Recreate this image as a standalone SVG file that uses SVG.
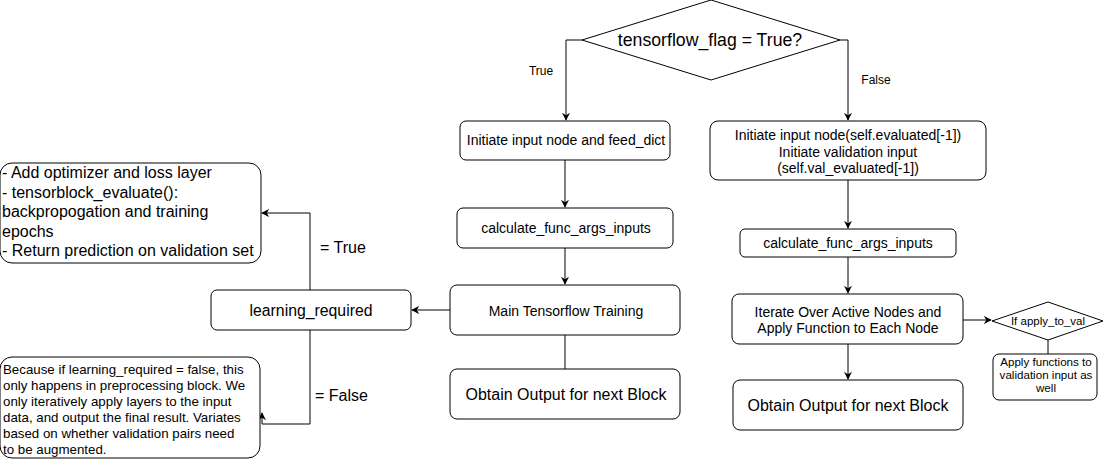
<svg xmlns="http://www.w3.org/2000/svg" width="1104" height="459" viewBox="0 0 1104 459">
<style>
.n{fill:#fff;stroke:#000;stroke-width:1}
.t{font-family:"Liberation Sans",Arial,sans-serif;fill:#000}
.c{fill:none;stroke:#000;stroke-width:1}
</style>
<defs>
<marker id="a" viewBox="0 0 10 10" refX="9" refY="5" markerWidth="8" markerHeight="8" orient="auto" markerUnits="userSpaceOnUse">
<path d="M0,0 L10,5 L0,10 L3,5 Z" fill="#000"/>
</marker>
</defs>
<rect width="1104" height="459" fill="#fff"/>
<g id="connectors">
<path class="c" d="M582,40 H566 V120" marker-end="url(#a)"/>
<path class="c" d="M840,40 H848 V120" marker-end="url(#a)"/>
<path class="c" d="M565,160 V207" marker-end="url(#a)"/>
<path class="c" d="M565,248 V284" marker-end="url(#a)"/>
<path class="c" d="M565,335 V369"/>
<path class="c" d="M450,310 H412" marker-end="url(#a)"/>
<path class="c" d="M310,290 V213 H262" marker-end="url(#a)"/>
<path class="c" d="M310,330 V424 H262 V413" marker-end="url(#a)"/>
<path class="c" d="M848,180 V228" marker-end="url(#a)"/>
<path class="c" d="M848,257 V293" marker-end="url(#a)"/>
<path class="c" d="M848,344 V379" marker-end="url(#a)"/>
<path class="c" d="M963,320 H991" marker-end="url(#a)"/>
<path class="c" d="M1048,340 V354"/>
<text class="t" x="541" y="75" font-size="12" text-anchor="middle">True</text>
<text class="t" x="876" y="84" font-size="12" text-anchor="middle">False</text>
<text class="t" x="320" y="253" font-size="16">= True</text>
<text class="t" x="315" y="401" font-size="16">= False</text>
</g>
<g id="decision">
<polygon class="n" points="711,0 840,40 711,80 582,40"/>
<text class="t" x="710" y="46" font-size="17.7" text-anchor="middle">tensorflow_flag = True?</text>
</g>
<g id="init-left">
<rect class="n" x="460" y="121" width="210" height="39" rx="6"/>
<text class="t" x="566" y="145" font-size="14" text-anchor="middle">Initiate input node and feed_dict</text>
</g>
<g id="calc-left">
<rect class="n" x="457" y="208" width="216" height="40" rx="6"/>
<text class="t" x="566" y="233" font-size="14" text-anchor="middle">calculate_func_args_inputs</text>
</g>
<g id="train">
<rect class="n" x="450" y="285" width="230" height="50" rx="7"/>
<text class="t" x="566" y="316" font-size="14" text-anchor="middle">Main Tensorflow Training</text>
</g>
<g id="output-left">
<rect class="n" x="450" y="369" width="230" height="50" rx="7"/>
<text class="t" x="566" y="400" font-size="16" text-anchor="middle">Obtain Output for next Block</text>
</g>
<g id="learning">
<rect class="n" x="211" y="290" width="200" height="40" rx="6"/>
<text class="t" x="311" y="316" font-size="15.8" text-anchor="middle">learning_required</text>
</g>
<g id="note-true">
<rect class="n" x="0" y="163" width="261" height="100" rx="12"/>
<text class="t" font-size="16"><tspan x="2" y="178">- Add optimizer and loss layer</tspan><tspan x="2" y="197.5">- tensorblock_evaluate():</tspan><tspan x="2" y="217">backpropogation and training</tspan><tspan x="2" y="236.5">epochs</tspan><tspan x="2" y="256">- Return prediction on validation set</tspan></text>
</g>
<g id="note-false">
<rect class="n" x="0" y="357" width="260" height="101" rx="12"/>
<text class="t" font-size="13.3"><tspan x="3" y="374">Because if learning_required = false, this</tspan><tspan x="3" y="390">only happens in preprocessing block. We</tspan><tspan x="3" y="406">only iteratively apply layers to the input</tspan><tspan x="3" y="422">data, and output the final result. Variates</tspan><tspan x="3" y="438">based on whether validation pairs need</tspan><tspan x="3" y="454">to be augmented.</tspan></text>
</g>
<g id="init-right">
<rect class="n" x="710" y="121" width="276" height="59" rx="8"/>
<text class="t" font-size="14" text-anchor="middle"><tspan x="848" y="140">Initiate input node(self.evaluated[-1])</tspan><tspan x="848" y="157">Initiate validation input</tspan><tspan x="848" y="173">(self.val_evaluated[-1])</tspan></text>
</g>
<g id="calc-right">
<rect class="n" x="740" y="229" width="216" height="28" rx="5"/>
<text class="t" x="848" y="248" font-size="14" text-anchor="middle">calculate_func_args_inputs</text>
</g>
<g id="iterate">
<rect class="n" x="732" y="294" width="231" height="50" rx="7"/>
<text class="t" font-size="14" text-anchor="middle"><tspan x="848" y="317">Iterate Over Active Nodes and</tspan><tspan x="848" y="333">Apply Function to Each Node</tspan></text>
</g>
<g id="output-right">
<rect class="n" x="733" y="380" width="230" height="50" rx="7"/>
<text class="t" x="848" y="411" font-size="16" text-anchor="middle">Obtain Output for next Block</text>
</g>
<g id="apply-decision">
<polygon class="n" points="1048,302 1103,321 1048,340 992,321"/>
<text class="t" x="1048" y="325" font-size="11.5" text-anchor="middle">If apply_to_val</text>
</g>
<g id="apply-box">
<rect class="n" x="993" y="354" width="104" height="46" rx="6"/>
<text class="t" font-size="11.6" text-anchor="middle"><tspan x="1046" y="366">Apply functions to</tspan><tspan x="1046" y="379">validation input as</tspan><tspan x="1046" y="392">well</tspan></text>
</g>
</svg>
